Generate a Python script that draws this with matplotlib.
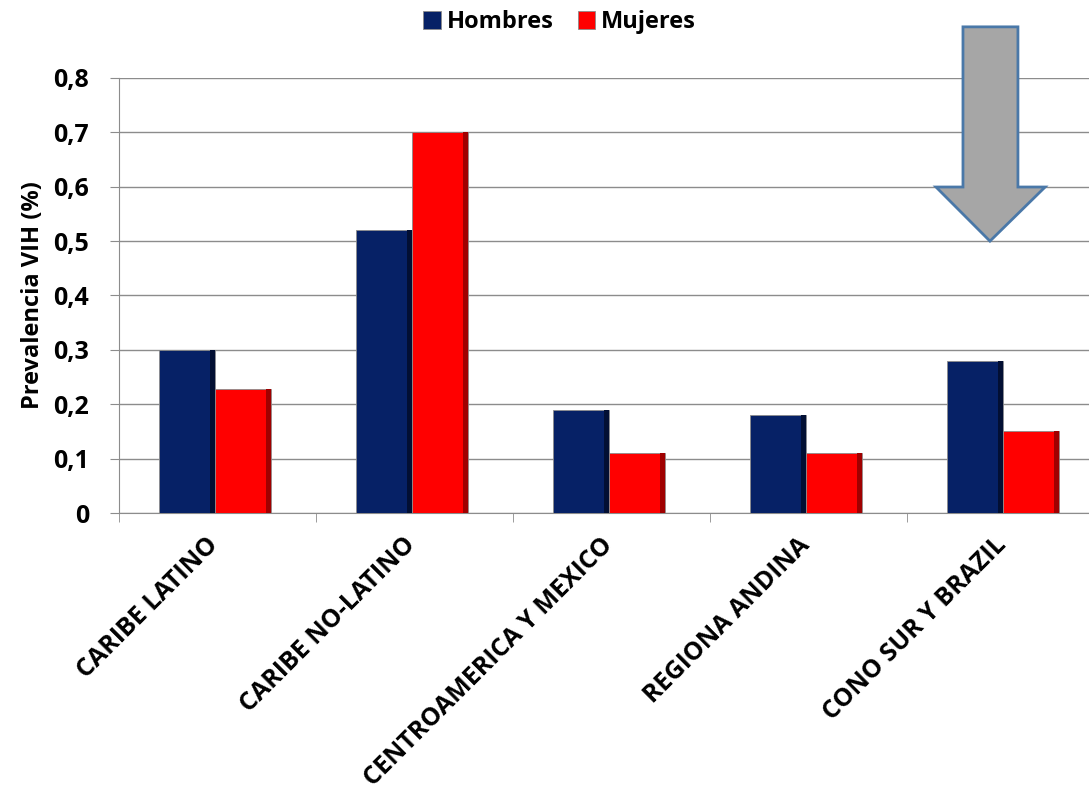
import matplotlib.pyplot as plt
import matplotlib.transforms as mtransforms
import numpy as np
from matplotlib.patches import Polygon

# Data
regions = ["CARIBE LATINO", "CARIBE NO-LATINO", "CENTROAMERICA Y MEXICO",
           "REGIONA ANDINA", "CONO SUR Y BRAZIL"]
hombres = [0.30, 0.52, 0.19, 0.18, 0.28]
mujeres = [0.228, 0.70, 0.11, 0.11, 0.15]
yticks = [0, 0.1, 0.2, 0.3, 0.4, 0.5, 0.6, 0.7, 0.8]
ytick_labels = ["0", "0,1", "0,2", "0,3", "0,4", "0,5", "0,6", "0,7", "0,8"]

plt.rcParams['font.family'] = ['Open Sans', 'DejaVu Sans']

blue = '#062166'
blue_dark = '#020f33'
red = '#ff0000'
red_dark = '#a00000'

fig = plt.figure(figsize=(10.89, 7.9), dpi=100)
ax = fig.add_axes([0.1093, 0.3506, 0.9045, 0.5507])

x = np.arange(len(regions))
w = 0.284
ax.bar(x - w / 2 - 0.012, hombres, w, color=blue, edgecolor='#8c8c8c', linewidth=0.6,
       label='Hombres', zorder=3)
ax.bar(x + w / 2 - 0.012, mujeres, w, color=red, edgecolor='#8c8c8c', linewidth=0.6,
       label='Mujeres', zorder=3)
# darker right edge to mimic the bevel
s = 0.022
ax.bar(x - s / 2 - 0.015, hombres, s, color=blue_dark, linewidth=0, zorder=4)
ax.bar(x + w - s / 2 - 0.015, mujeres, s, color=red_dark, linewidth=0, zorder=4)

ax.set_xlim(-0.5, len(regions) - 0.5)
ax.set_ylim(0, 0.8)
ax.set_yticks(yticks)
ax.set_yticklabels(ytick_labels, fontsize=18, fontweight='bold')
ax.grid(axis='y', color='#8c8c8c', linewidth=1, zorder=0)

ax.set_xticks(x)
ax.set_xticklabels(regions, rotation=45, ha='right', va='top',
                   fontsize=18, fontweight='bold')
ax.tick_params(axis='x', which='major', length=0, pad=14)
shift = mtransforms.ScaledTranslation(6 / 100, 0, fig.dpi_scale_trans)
for lbl in ax.get_xticklabels():
    lbl.set_transform(lbl.get_transform() + shift)
ax.set_xticks(np.arange(len(regions) + 1) - 0.5, minor=True)
ax.tick_params(axis='x', which='minor', length=6.5, color='#8c8c8c', direction='out')
ax.tick_params(axis='y', length=6.5, color='#8c8c8c', pad=15)

for side in ['top', 'right']:
    ax.spines[side].set_visible(False)
for side in ['left', 'bottom']:
    ax.spines[side].set_color('#8c8c8c')

ax.set_ylabel("Prevalencia VIH (%)", fontsize=17, fontweight='bold', labelpad=6)

fig.legend(*ax.get_legend_handles_labels(), loc='center', bbox_to_anchor=(0.514, 0.972),
           ncol=2, frameon=False, prop={'size': 17, 'weight': 'bold'},
           handlelength=0.75, handleheight=0.75, handletextpad=0.25, columnspacing=1.0)

# grey arrow pointing to the last group
arrow = Polygon([(3.784, 0.894), (4.063, 0.894), (4.063, 0.5995), (4.201, 0.5995),
                 (3.921, 0.500), (3.647, 0.5995), (3.784, 0.5995)],
                closed=True, facecolor='#a6a6a6', edgecolor='#4a78a8',
                linewidth=2, zorder=5, clip_on=False)
ax.add_patch(arrow)

fig.savefig('out.png', dpi=100)
